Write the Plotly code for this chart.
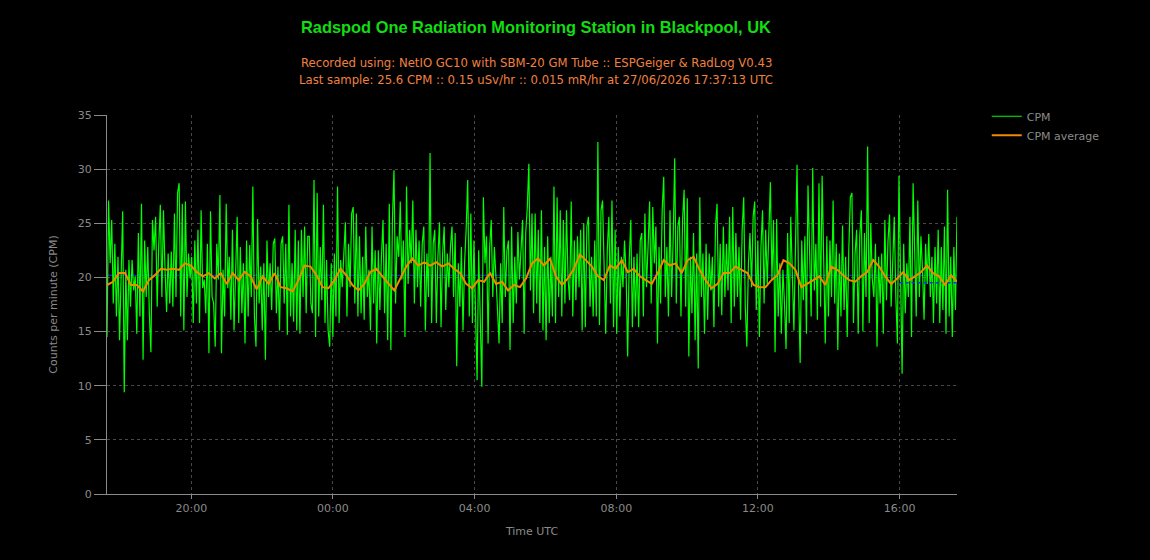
import pandas as pd
import plotly.graph_objects as go

START = "2026-06-26 17:37:13"
END = "2026-06-27 17:37:13"

cpm = [
    # 17:37 - ~23:45
    14.5, 27.1, 21.3, 25.3, 17.6, 23.1, 16.4, 21.9, 14.2, 21.9, 26.1, 9.4, 20.7, 14.2, 21.6, 17.3, 21.6, 18.8, 20.1, 14.8,
    24.1, 16.4, 26.8, 12.4, 23.4, 18.2, 22.8, 16.7, 13.1, 25.3, 22.5, 25.6, 17.3, 23.0, 26.7, 18.2, 26.2, 20.7, 16.8, 22.2,
    17.6, 22.4, 17.3, 25.9, 18.2, 27.8, 28.7, 16.4, 26.8, 15.1, 27.0, 18.2, 22.2, 19.9, 21.9, 15.8, 23.4, 17.6, 24.4, 15.8,
    26.2, 19.0, 19.8, 16.7, 23.1, 13.0, 26.1, 18.2, 17.6, 13.6, 23.1, 19.8, 27.6, 13.0, 20.7, 16.4, 26.8, 19.0, 21.9, 16.1,
    24.4, 15.1, 21.9, 25.6, 15.8, 22.8, 16.7, 21.3, 13.9, 23.4, 16.4, 23.0, 18.2, 28.4, 16.4, 13.6, 25.4, 17.6, 21.0, 15.1,
    21.3, 12.4, 23.4, 18.2, 21.3, 17.0, 23.1, 23.6, 16.7, 21.0, 15.1, 23.1, 23.8, 17.6, 23.1, 14.7, 26.7, 16.4, 21.3, 15.9,
    24.4, 15.1, 23.4, 14.8, 24.4, 18.2, 24.7, 16.7, 23.8,
    # ~23:45 - ~05:50
    23.8, 17.6, 16.7, 29.0, 14.5, 27.8, 16.4, 22.8, 17.9, 26.7, 15.8, 21.6, 15.1, 13.6, 21.3, 14.5, 22.2, 16.4, 28.4, 15.8,
    21.6, 19.1, 22.8, 25.1, 16.4, 23.1, 19.1, 25.9, 26.5, 17.6, 25.9, 16.4, 23.8, 16.7, 21.9, 16.1, 24.7, 18.2, 20.7, 15.1,
    24.7, 17.6, 22.5, 13.9, 22.5, 17.0, 21.9, 25.3, 16.7, 23.1, 14.2, 26.8, 13.3, 25.3, 29.9, 17.6, 23.8, 21.9, 27.0, 19.8,
    23.4, 14.5, 28.4, 19.4, 24.4, 21.3, 27.1, 17.6, 24.4, 19.1, 23.4, 17.3, 23.1, 24.7, 15.1, 22.2, 18.2, 31.5, 15.8, 23.1,
    24.4, 15.8, 21.9, 25.1, 15.4, 22.2, 24.7, 17.0, 22.2, 19.1, 22.8, 24.7, 18.2, 24.1, 11.8, 21.3, 17.3, 22.8, 15.1, 21.3,
    24.4, 29.0, 16.4, 25.9, 15.8, 23.4, 16.7, 10.5, 22.5, 15.1, 9.9, 27.4, 21.3, 23.8, 13.9, 22.8, 25.3, 18.2, 22.8, 20.1,
    17.0, 13.9, 21.3, 15.8, 26.5, 18.2, 22.5, 23.4, 13.3, 24.7, 15.8, 21.9, 17.6, 24.2, 19.8, 22.8, 25.3, 14.8, 24.1, 26.5,
    30.5, 18.8, 25.9, 16.7,
    # ~05:50 - ~11:50
    25.9, 17.6, 24.4, 15.8, 26.2, 15.1, 22.8, 14.2, 23.8, 15.8, 21.9, 16.4, 28.4, 15.8, 27.4, 18.2, 26.2, 16.4, 25.3, 17.6,
    26.2, 19.8, 17.9, 27.0, 16.4, 23.4, 17.9, 23.8, 19.1, 24.4, 15.1, 25.0, 15.4, 24.7, 25.6, 17.3, 21.9, 16.4, 23.4, 16.4,
    32.5, 15.6, 26.2, 27.1, 19.1, 14.8, 22.5, 25.6, 17.6, 27.1, 15.4, 24.4, 14.8, 22.8, 16.4, 21.9, 19.1, 23.4, 20.4, 12.7,
    21.6, 25.3, 15.4, 21.9, 16.4, 22.2, 15.4, 23.4, 24.1, 16.4, 25.9, 19.1, 22.8, 27.0, 17.6, 26.5, 21.3, 24.7, 13.9, 22.8,
    17.6, 26.2, 29.3, 18.2, 22.8, 16.4, 26.2, 18.2, 23.4, 31.0, 17.6, 24.7, 25.6, 16.4, 25.3, 28.1, 17.3, 27.3, 12.7, 21.9,
    16.7, 24.1, 14.2, 22.2, 11.6, 27.4, 18.2, 22.2, 14.8, 23.1, 16.1, 22.2, 18.8, 21.9, 15.4, 24.7, 26.8, 17.3, 23.1, 16.5,
    24.7, 18.2, 23.1, 18.8, 25.6, 15.8, 26.5, 17.3, 24.1, 18.2, 22.8, 16.1, 24.4, 27.4, 17.3, 13.6, 21.3, 24.1, 19.1, 25.6,
    # ~11:50 - 17:37
    27.0, 17.0, 23.4, 14.5, 22.8, 26.2, 17.6, 24.4, 19.4, 25.0, 28.8, 19.8, 25.3, 13.1, 25.4, 16.4, 21.3, 14.8, 20.7, 17.6,
    13.4, 24.1, 15.8, 25.6, 21.0, 15.1, 22.8, 30.4, 18.8, 12.1, 23.4, 17.9, 23.8, 14.8, 28.5, 21.9, 16.4, 30.1, 18.8, 23.1,
    16.1, 28.7, 17.3, 29.4, 19.4, 13.9, 23.8, 16.4, 23.4, 18.2, 27.1, 17.6, 23.1, 13.3, 22.2, 16.4, 24.8, 17.0, 21.9, 14.5,
    22.5, 27.4, 27.8, 15.8, 22.2, 24.4, 14.8, 23.8, 26.2, 15.0, 24.1, 18.2, 32.1, 15.8, 25.0, 19.8, 18.2, 23.1, 13.6, 21.9,
    17.6, 22.2, 14.8, 25.3, 17.9, 23.4, 25.8, 17.3, 21.3, 25.6, 18.2, 13.9, 29.4, 18.2, 11.1, 23.1, 16.7, 21.3, 18.2, 25.6,
    14.5, 28.7, 21.3, 16.4, 27.1, 18.2, 23.8, 20.7, 16.1, 23.1, 19.4, 24.0, 18.2, 21.9, 15.8, 22.8, 17.6, 24.4, 15.8, 22.8,
    17.0, 24.7, 14.8, 28.1, 16.4, 21.9, 14.5, 22.8, 17.0, 25.6,
]

cpm_average = [
    19.3, 19.6, 20.4, 20.4, 19.3, 19.3, 18.7, 19.75, 20.2, 20.8, 20.7, 20.8, 20.7, 21.3, 21.1, 20.5, 20.1, 20.4, 19.9, 20.4,
    19.4, 20.4, 19.75, 20.5, 20.1, 18.9, 20.1, 19.4, 20.4, 19.1, 19.0, 18.7, 19.75, 21.1, 21.0, 20.2, 19.1,
    19.0, 19.75, 20.8, 20.2, 19.3, 18.8, 19.4, 20.5, 20.8, 20.1, 19.4, 18.8, 19.9, 21.0, 21.75, 21.1, 21.4, 21.1, 21.4, 21.0,
    21.3, 20.8, 20.4, 19.4, 19.0, 19.75, 19.6, 20.4, 19.4, 19.6, 18.8, 19.3, 19.1, 19.9, 21.3, 21.75,
    21.1, 21.75, 20.1, 19.3, 19.9, 20.8, 22.1, 21.6, 21.0, 20.1, 19.75, 21.1, 20.8, 21.6, 20.5, 20.8, 20.1, 19.75, 19.4, 20.4,
    21.6, 21.1, 21.3, 20.4, 21.6, 21.9, 20.7, 19.75, 19.0, 19.4, 20.4, 20.4, 21.0, 20.7, 20.4, 19.3, 19.1,
    19.1, 19.75, 20.2, 21.6, 21.3, 20.7, 19.1, 19.4, 19.75, 20.1, 19.3, 21.0, 20.7, 20.2, 19.75, 19.6, 20.1, 20.5, 21.6, 21.0,
    20.1, 19.4, 19.9, 20.5, 19.75, 20.1, 20.5, 21.1, 20.4, 20.1, 19.3, 20.2, 19.6,
]

mean_cpm = [20.2, 20.2]
recent_mean_times = ["2026-06-27 16:00:00", END]
recent_mean = [19.5, 19.5]

title_text = "Radspod One Radiation Monitoring Station in Blackpool, UK"
sub1 = "Recorded using: NetIO GC10 with SBM-20 GM Tube :: ESPGeiger &amp; RadLog V0.43"
sub2 = "Last sample: 25.6 CPM :: 0.15 uSv/hr :: 0.015 mR/hr at 27/06/2026 17:37:13 UTC"

t_cpm = pd.date_range(START, END, periods=len(cpm))
t_avg = pd.date_range(START, END, periods=len(cpm_average))

GRAY = "#8a8a8a"
GRID = "#484848"
FONT = "DejaVu Sans"

fig = go.Figure()
fig.add_trace(go.Scatter(x=[START, END], y=mean_cpm, mode="lines",
                         line=dict(color="#1a2cff", width=1), showlegend=False, hoverinfo="skip"))
fig.add_trace(go.Scatter(x=t_cpm, y=cpm, mode="lines", name="CPM",
                         line=dict(color="#00ff00", width=1.2)))
fig.add_trace(go.Scatter(x=recent_mean_times, y=recent_mean, mode="lines",
                         line=dict(color="#1a2cff", width=1.5, dash="dot"), showlegend=False, hoverinfo="skip"))
fig.add_trace(go.Scatter(x=t_avg, y=cpm_average, mode="lines", name="CPM average",
                         line=dict(color="#f08a00", width=2)))

fig.update_layout(
    width=1150, height=560,
    paper_bgcolor="black", plot_bgcolor="black",
    margin=dict(l=107, r=193, t=115, b=66),
    font=dict(family=FONT, size=11, color=GRAY),
    showlegend=True,
    legend=dict(x=1.035, y=1.035, xanchor="left", yanchor="top",
                font=dict(family=FONT, size=11, color=GRAY),
                bgcolor="rgba(0,0,0,0)", tracegroupgap=0, itemwidth=30),
    xaxis=dict(
        type="date", range=[START, END],
        tickformat="%H:%M", dtick=4 * 3600000, tick0="2026-06-26 00:00:00",
        showgrid=True, gridcolor=GRID, griddash="3px,3px", gridwidth=1,
        showline=True, linecolor=GRAY, linewidth=1,
        ticks="outside", ticklen=4, tickcolor=GRAY,
        tickfont=dict(family=FONT, size=11, color=GRAY),
        title=dict(text="Time UTC", font=dict(family=FONT, size=11, color=GRAY), standoff=13),
        zeroline=False,
    ),
    yaxis=dict(
        range=[0, 35], dtick=5,
        showgrid=True, gridcolor=GRID, griddash="3px,3px", gridwidth=1,
        showline=True, linecolor=GRAY, linewidth=1,
        ticks="outside", ticklen=12, tickcolor=GRAY,
        tickfont=dict(family=FONT, size=11, color=GRAY),
        title=dict(text="Counts per minute (CPM)", font=dict(family=FONT, size=11, color=GRAY), standoff=17),
        zeroline=False,
    ),
    annotations=[
        dict(text="<b>" + title_text + "</b>", xref="paper", yref="paper", x=0.505, y=1.232,
             xanchor="center", yanchor="middle", showarrow=False,
             font=dict(family="Liberation Sans", size=16.4, color="#11dd11")),
        dict(text=sub1, xref="paper", yref="paper", x=0.505, y=1.137,
             xanchor="center", yanchor="middle", showarrow=False,
             font=dict(family=FONT, size=11.7, color="#f08040")),
        dict(text=sub2, xref="paper", yref="paper", x=0.505, y=1.092,
             xanchor="center", yanchor="middle", showarrow=False,
             font=dict(family=FONT, size=11.7, color="#f08040")),
    ],
)

fig.write_html("out.html")
